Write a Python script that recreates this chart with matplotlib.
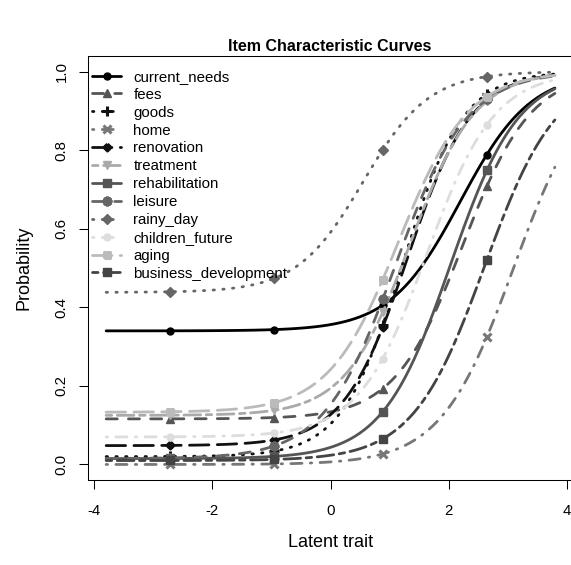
import numpy as np
import matplotlib.pyplot as plt
from matplotlib.path import Path

plt.rcParams['font.family'] = ['Liberation Sans', 'DejaVu Sans']

# item names and 3PL parameters (guessing, discrimination, difficulty)
items = ['current_needs', 'fees', 'goods', 'home', 'renovation', 'treatment',
         'rehabilitation', 'leisure', 'rainy_day', 'children_future', 'aging',
         'business_development']
guess = [0.34, 0.116, 0.02, 0.0, 0.048, 0.125, 0.015, 0.015, 0.438, 0.07, 0.133, 0.01]
discr = [1.68, 1.73, 1.95, 1.62, 1.85, 1.82, 1.73, 1.65, 1.79, 1.74, 1.69, 1.64]
diffic = [2.20, 2.24, 1.22, 3.10, 1.30, 1.35, 2.03, 1.10, 0.55, 1.63, 1.15, 2.61]

z = np.linspace(-3.8, 3.8, 100)
mark_idx = [14, 37, 61, 84]

# marker shapes like R pch 9 (diamond plus) and pch 12 (square plus)
diamond_plus = Path([(0, 1), (1, 0), (0, -1), (-1, 0), (0, 1), (0, 1), (0, -1), (-1, 0), (1, 0)],
                    [1, 2, 2, 2, 2, 1, 2, 1, 2])
square_plus = Path([(-1, -1), (1, -1), (1, 1), (-1, 1), (-1, -1), (0, 1), (0, -1), (-1, 0), (1, 0)],
                   [1, 2, 2, 2, 2, 1, 2, 1, 2])

colors = ['#000000', '#555555', '#111111', '#777777', '#111111', '#aaaaaa',
          '#555555', '#666666', '#666666', '#dddddd', '#bbbbbb', '#444444']
dash = {'solid': None, 'dashed': (4, 4), 'dotted': (0.5, 3), 'dotdash': (0.5, 3, 4, 3),
        'longdash': (7, 3), 'twodash': (2, 2, 6, 2)}
ltys = ['solid', 'dashed', 'dotted', 'dotdash', 'longdash', 'twodash',
        'solid', 'dashed', 'dotted', 'dotdash', 'longdash', 'twodash']
markers = ['o', '^', '+', 'x', diamond_plus, 'v', 's', (8, 2, 0), 'D', 'o', square_plus, 's']
msizes = [5, 6, 7, 6, 5, 6, 5.5, 7, 5.5, 5, 4.5, 5.5]
open_mk = [False, False, True, True, True, False, False, True, False, False, True, False]

fig = plt.figure(figsize=(5.71, 5.65), dpi=100)
ax = fig.add_axes([0.1545, 0.1501, 0.8487, 0.7511])

for i, name in enumerate(items):
    p = guess[i] + (1 - guess[i]) / (1 + np.exp(-discr[i] * (z - diffic[i])))
    ln, = ax.plot(z, p, color=colors[i], lw=2.0, marker=markers[i], markevery=mark_idx,
                  ms=msizes[i], mew=2.2 if open_mk[i] else 1.0,
                  mfc='none' if open_mk[i] else colors[i], mec=colors[i],
                  dash_capstyle='round', solid_capstyle='round', label=name)
    if dash[ltys[i]] is not None:
        ln.set_dashes(dash[ltys[i]])

ax.set_xlim(-4.104, 4.104)
ax.set_ylim(-0.04, 1.04)
ax.set_xticks([-4, -2, 0, 2, 4])
ax.set_xticklabels(['-4', '-2', '0', '2', '4'])
ax.set_yticks([0, 0.2, 0.4, 0.6, 0.8, 1.0])
ax.set_yticklabels(['0.0', '0.2', '0.4', '0.6', '0.8', '1.0'], rotation=90, va='center')
ax.tick_params(length=6.7, width=0.75, labelsize=10.8)
ax.tick_params(axis='x', pad=10.5)
ax.tick_params(axis='y', pad=7.5)
for s in ax.spines.values():
    s.set_linewidth(0.75)

ax.set_xlabel('Latent trait', fontsize=13)
ax.set_ylabel('Probability', fontsize=13)
ax.xaxis.set_label_coords(0.5, -0.127)
ax.yaxis.set_label_coords(-0.114, 0.5)
fig.text(0.578, 0.918, 'Item Characteristic Curves', ha='center', va='center',
         fontsize=11.5, fontweight='bold')

ax.legend(loc='upper left', bbox_to_anchor=(0.008, 0.967), frameon=False, fontsize=10.8,
          handlelength=1.95, handletextpad=0.8, labelspacing=0.26, borderpad=0,
          borderaxespad=0, numpoints=1)

fig.savefig('out.png', dpi=100)
